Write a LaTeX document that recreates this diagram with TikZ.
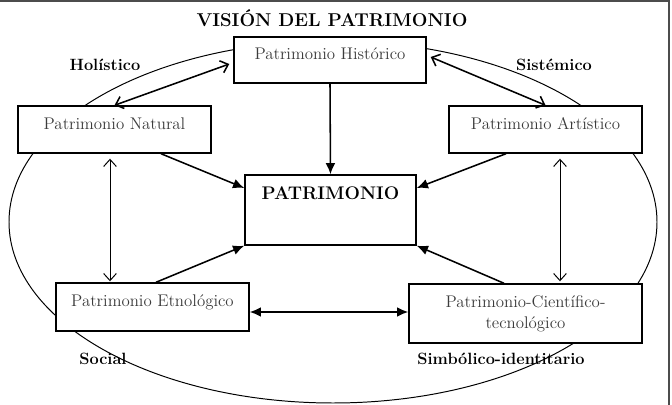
\documentclass[tikz,border=0pt]{standalone}
\usepackage{tikz}
\usetikzlibrary{arrows.meta,calc}
\definecolor{gristexto}{RGB}{60,60,60}

\tikzset{
  caja/.style={draw, fill=white, line width=1pt, inner sep=0pt,
    font=\fontsize{12}{15}\selectfont, text=gristexto},
  unalinea/.style={text height=1.6ex, text depth=1.6ex},
  rotulo/.style={font=\fontsize{11.6}{14}\selectfont\bfseries},
  flecha/.style={line width=1.1pt, -{Latex[length=8pt,width=7pt]}},
  doble/.style={line width=1.1pt, {Latex[length=8pt,width=7pt]}-{Latex[length=8pt,width=7pt]}},
  abierta/.style={{Straight Barb[length=5pt,width=9pt]}-{Straight Barb[length=5pt,width=9pt]}},
}

\begin{document}
\begin{tikzpicture}[x=0.025cm, y=-0.025cm]
\useasboundingbox (0,0) rectangle (672,405);
% marco
\draw[gray!60!black, line width=1.2pt] (0,1) -- (669,1) -- (669,405);

\draw[line width=0.7pt] (333,222) ellipse [x radius=324, y radius=181];

\node (titulo) at (332,18) {\fontsize{13.2}{16}\selectfont\bfseries VISIÓN DEL PATRIMONIO};

\node (hist) [caja, unalinea, minimum width=4.8cm, minimum height=1.15cm] at (330,60) {Patrimonio Histórico};
\node (nat) [caja, unalinea, minimum width=4.825cm, minimum height=1.175cm] at (114.5,129.5) {Patrimonio Natural};
\node (art) [caja, unalinea, minimum width=4.825cm, minimum height=1.175cm] at (545.5,129.5) {Patrimonio Artístico};
\node (patr) [caja, minimum width=4.275cm, minimum height=1.75cm] at (330.5,210) {};
\node (patrtxt) at (330.5,193) {\fontsize{13}{16}\selectfont\bfseries PATRIMONIO};
\node (etno) [caja, unalinea, minimum width=4.825cm, minimum height=1.2cm] at (152.5,307) {Patrimonio Etnológico};
\node (cien) [caja, align=center, minimum width=5.825cm, minimum height=1.475cm] at (525.5,313.5) {Patrimonio-Científico-\\tecnológico};

\node (holis) [rotulo] at (105,65) {Holístico};
\node (siste) [rotulo] at (554,65) {Sistémico};
\node (soc) [rotulo] at (103,359) {Social};
\node (simb) [rotulo] at (501,359) {Simbólico-identitario};

\draw[doble, abierta] ($(hist.west)+(-4,4)$) -- (nat.north);
\draw[doble, abierta] ($(hist.east)+(4,-3)$) -- (art.north);
\draw[flecha] (hist.south) -- (patr.north);
\draw[flecha] ($(nat.south)+(46.5,0)$) -- ($(patr.west)+(0,-22)$);
\draw[flecha] ($(art.south)+(-39.5,0)$) -- ($(patr.east)+(0,-22)$);
\draw[flecha] ($(etno.north)+(3.5,0)$) -- (patr.south west);
\draw[flecha] ($(cien.north)+(-21.5,0)$) -- (patr.south east);
\draw[line width=0.7pt, abierta] ($(nat.south)+(-4.5,5)$) -- ($(etno.north)+(-42.5,-1)$);
\draw[line width=0.7pt, abierta] ($(art.south)+(14.5,5)$) -- ($(cien.north)+(34.5,-2)$);
\draw[doble] ($(etno.east)+(0,5)$) -- ($(cien.west)+(0,-1.5)$);
\end{tikzpicture}
\end{document}
